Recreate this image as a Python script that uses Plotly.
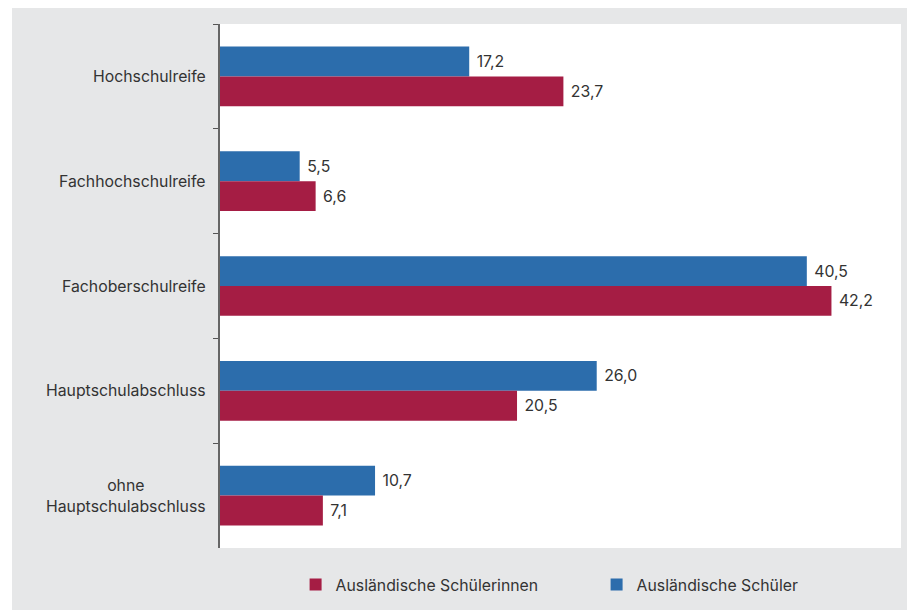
import plotly.graph_objects as go

categories = ["Hochschulreife", "Fachhochschulreife", "Fachoberschulreife",
              "Hauptschulabschluss", "ohne<br>Hauptschulabschluss"]
schueler = [17.2, 5.5, 40.5, 26.0, 10.7]
schuelerinnen = [23.7, 6.6, 42.2, 20.5, 7.1]
series_names = ["Ausländische Schüler", "Ausländische Schülerinnen"]

BLUE = "#2c6dac"
RED = "#a51d44"
BG = "#e6e7e8"
TXT = "#333333"
FONT = "Inter"
FS = 15.8


def fmt(v):
    return "\u00a0" + f"{v:.1f}".replace(".", ",")


fig = go.Figure()
fig.add_trace(go.Bar(
    y=categories, x=schueler, orientation="h", name=series_names[0],
    marker=dict(color=BLUE, line=dict(width=0)),
    text=[fmt(v) for v in schueler], textposition="outside",
    textfont=dict(family=FONT, size=FS, color=TXT), cliponaxis=False,
    legendrank=2,
))
fig.add_trace(go.Bar(
    y=categories, x=schuelerinnen, orientation="h", name=series_names[1],
    marker=dict(color=RED, line=dict(width=0)),
    text=[fmt(v) for v in schuelerinnen], textposition="outside",
    textfont=dict(family=FONT, size=FS, color=TXT), cliponaxis=False,
    legendrank=1,
))

# category labels (centered multi-line)
for c in categories:
    fig.add_annotation(
        x=0, xref="paper", y=c, yref="y", text=c, showarrow=False,
        xanchor="right", xshift=-12, align="center",
        font=dict(family=FONT, size=FS, color=TXT),
    )

# thin white strip at the left edge of the page
fig.add_shape(type="rect", xref="paper", yref="paper",
              x0=-0.32, x1=-0.3054, y0=-0.2, y1=1.1,
              fillcolor="white", line=dict(width=0), layer="below")

fig.update_layout(
    width=907, height=602,
    margin=dict(l=212, r=14, t=16, b=62, autoexpand=False),
    paper_bgcolor=BG, plot_bgcolor="white",
    barmode="group", bargap=0.43, bargroupgap=0,
    font=dict(family=FONT, size=FS, color=TXT),
    showlegend=True,
    legend=dict(
        orientation="h", x=0.111, xanchor="left", y=-0.07, yanchor="middle",
        bgcolor="rgba(0,0,0,0)", entrywidth=256, entrywidthmode="pixels",
        font=dict(family=FONT, size=FS, color=TXT),
    ),
    xaxis=dict(range=[0, 47], visible=False, fixedrange=True),
    yaxis=dict(
        autorange="reversed", showticklabels=False,
        ticks="outside", tickson="boundaries", ticklen=5, tickcolor="#555",
        showline=True, linecolor="#666", linewidth=1.5,
        showgrid=False, zeroline=False,
    ),
)

fig.write_html("out.html")
